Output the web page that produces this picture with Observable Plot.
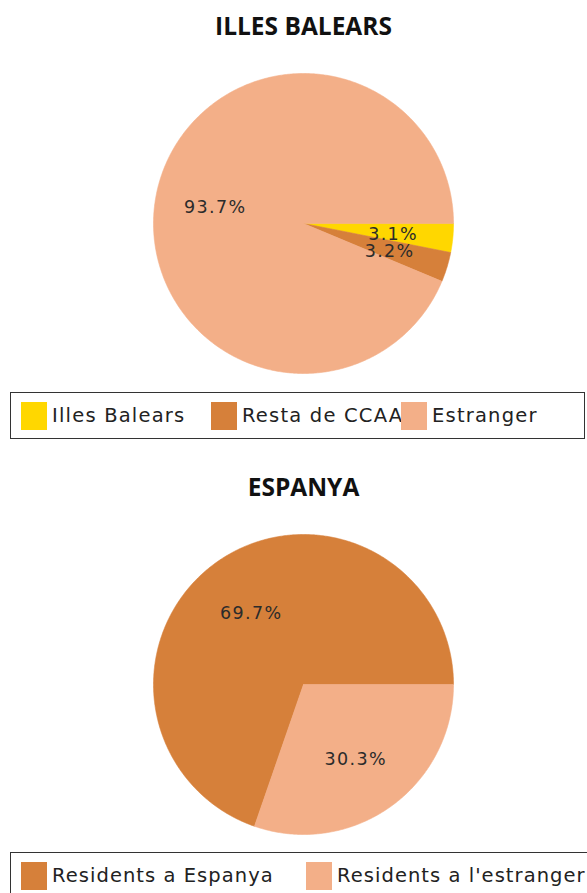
<!DOCTYPE html>
<html>
<head>
<meta charset="utf-8">
<script src="https://cdn.jsdelivr.net/npm/d3@7"></script>
<script src="https://cdn.jsdelivr.net/npm/@observablehq/plot@0.6"></script>
<style>
  html, body { margin: 0; padding: 0; background: #fff; }
  #page { position: relative; width: 587px; height: 893px; overflow: hidden; background: #fff; }
  .title { position: absolute; left: 0; width: 607px; text-align: center; font-family: "Open Sans", sans-serif; font-weight: 700; font-size: 24.5px; line-height: 1; color: #111; }
  .pie { position: absolute; left: 0; }
  .pie text { letter-spacing: 1.35px; }
  .legend { position: absolute; left: 10px; border: 1.5px solid #333; box-sizing: border-box; background: #fff; display: flex; align-items: center; font-family: "DejaVu Sans", sans-serif; font-size: 19.5px; letter-spacing: 1.2px; color: #222; white-space: nowrap; }
  .legend.l2 { letter-spacing: 1.05px; }
  .item { display: flex; align-items: center; flex: none; }
  .sw { width: 26px; height: 28px; flex: none; margin-right: 5px; }
</style>
</head>
<body>
<div id="page"></div>
<script>
// ---- data ----
const titles = ["ILLES BALEARS", "ESPANYA"];
const balearsCategories = ["Illes Balears", "Resta de CCAA", "Estranger"];
const balearsValues = [3.1, 3.2, 93.7];
const espanyaCategories = ["Residents a Espanya", "Residents a l'estranger"];
const espanyaValues = [69.7, 30.3];
const balearsColors = ["#FFD700", "#D6803A", "#F3AF88"];
const espanyaColors = ["#D6803A", "#F3AF88"];

// ---- helpers ----
function buildSlices(categories, values, dir) {
  const total = d3.sum(values);
  const pts = [], labels = [];
  let acc = 0;
  categories.forEach((key, i) => {
    const a0 = acc / total * 2 * Math.PI * dir;
    acc += values[i];
    const a1 = acc / total * 2 * Math.PI * dir;
    const n = Math.max(2, Math.ceil(Math.abs(a1 - a0) / (Math.PI / 360)));
    pts.push({key, x: 0, y: 0});
    for (let j = 0; j <= n; j++) {
      const a = a0 + (a1 - a0) * j / n;
      pts.push({key, x: Math.cos(a), y: Math.sin(a)});
    }
    pts.push({key, x: 0, y: 0});
    const m = (a0 + a1) / 2;
    labels.push({x: 0.6 * Math.cos(m), y: 0.6 * Math.sin(m), text: values[i].toFixed(1) + "%"});
  });
  return {pts, labels};
}

function pieChart(categories, values, colors, dir) {
  const {pts, labels} = buildSlices(categories, values, dir);
  return Plot.plot({
    width: 587,
    height: 330,
    margin: 0,
    style: {background: "transparent"},
    x: {domain: [-1, 1], range: [153, 453], axis: null},
    y: {domain: [-1, 1], range: [13, 313], axis: null},
    color: {domain: categories, range: colors},
    marks: [
      Plot.line(pts, {x: "x", y: "y", z: "key", fill: "key", stroke: "key", strokeWidth: 0.6}),
      Plot.text(labels, {x: "x", y: "y", text: "text", fontSize: 17.5, fontFamily: "DejaVu Sans", fill: "#2b2b2b", dy: 2})
    ]
  });
}

function legend(categories, colors, colWidth, padLeft, cls) {
  const div = document.createElement("div");
  div.className = "legend " + cls;
  div.style.paddingLeft = padLeft + "px";
  categories.forEach((c, i) => {
    const it = document.createElement("div");
    it.className = "item";
    it.style.width = colWidth + "px";
    const sw = document.createElement("div");
    sw.className = "sw";
    sw.style.background = colors[i];
    const t = document.createElement("span");
    t.textContent = c;
    it.appendChild(sw);
    it.appendChild(t);
    div.appendChild(it);
  });
  return div;
}

// ---- layout ----
const page = document.getElementById("page");

function addTitle(text, top) {
  const d = document.createElement("div");
  d.className = "title";
  d.style.top = top + "px";
  d.textContent = text;
  page.appendChild(d);
}

addTitle(titles[0], 14);
const p1 = pieChart(balearsCategories, balearsValues, balearsColors, 1);
const w1 = document.createElement("div"); w1.className = "pie"; w1.style.top = "60px"; w1.appendChild(p1); page.appendChild(w1);
const l1 = legend(balearsCategories, balearsColors, 190, 10, "l1");
l1.style.top = "392px"; l1.style.width = "575px"; l1.style.height = "47px";
page.appendChild(l1);

addTitle(titles[1], 475);
const p2 = pieChart(espanyaCategories, espanyaValues, espanyaColors, -1);
const w2 = document.createElement("div"); w2.className = "pie"; w2.style.top = "521px"; w2.appendChild(p2); page.appendChild(w2);
const l2 = legend(espanyaCategories, espanyaColors, 285, 10, "l2");
l2.style.top = "852px"; l2.style.width = "600px"; l2.style.height = "47px";
page.appendChild(l2);
</script>
</body>
</html>
